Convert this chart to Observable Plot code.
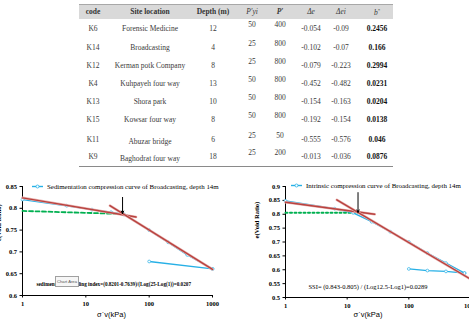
<!DOCTYPE html>
<html>
<head>
<meta charset="utf-8">
<script src="https://cdn.jsdelivr.net/npm/d3@7"></script>
<script src="https://cdn.jsdelivr.net/npm/@observablehq/plot@0.6"></script>
<style>
  html, body { margin: 0; padding: 0; background: #fff; }
  #page { position: relative; width: 469px; height: 323px; overflow: hidden; background: #fff;
          font-family: "Liberation Serif", "DejaVu Serif", serif; }
  .cell { position: absolute; transform: translate(-50%, -50%); white-space: nowrap;
          font-size: 7.5px; line-height: 1; color: #3a3a3a; }
  .head { color: #333; font-weight: bold; }
  .bold { font-weight: bold; color: #111; }
  .band { position: absolute; background: #d9d9d9; border-top: 1px solid #a8a8a8; }
  .rule { position: absolute; height: 1px; background: #8a8a8a; }
  .chart { position: absolute; }
  .tip { position: absolute; background: #f6f6f6; border: 1px solid #a0a0a0; color: #555;
         font: 4.2px "Liberation Sans", sans-serif; line-height: 9px; text-align: center;
         white-space: nowrap; overflow: hidden; box-sizing: border-box; }
</style>
</head>
<body>
<div id="page"></div>
<script>
// ---- Table: consolidation results per site ----
const headers = ["code", "Site location", "Depth (m)", "<i>P′yi</i>", "<b><i>P′</i></b>", "<i>Δe</i>", "<i>Δei</i>", "<i>b</i><sup style='font-size:5px'>*</sup>"];
const codes = ["K6", "K14", "K12", "K4", "K13", "K15", "K11", "K9"];
const sites = ["Forensic Medicine", "Broadcasting", "Kerman potk Company", "Kuhpayeh four way", "Shora park", "Kowsar four way", "Abuzar bridge", "Baghodrat four way"];
const depths = [12, 4, 8, 13, 10, 8, 6, 18];
const pYield = [50, 25, 25, 50, 50, 50, 25, 25];
const pFinal = [400, 800, 800, 800, 800, 800, 50, 200];
const deltaE = ["-0.054", "-0.102", "-0.079", "-0.452", "-0.154", "-0.192", "-0.555", "-0.013"];
const deltaEi = ["-0.09", "-0.07", "-0.223", "-0.482", "-0.163", "-0.154", "-0.576", "-0.036"];
const bStar = ["0.2456", "0.166", "0.2994", "0.0231", "0.0204", "0.0138", "0.046", "0.0876"];

// ---- Left chart: sedimentation compression curve (Broadcasting, depth 14 m) ----
const sedStress = [1, 5, 12.5, 25, 40, 100, 200, 400, 1000];
const sedVoid = [0.820, 0.806, 0.797, 0.791, 0.786, 0.750, 0.722, 0.693, 0.661];
const sedUnloadStress = [1000, 100];
const sedUnloadVoid = [0.661, 0.678];
const sedTanA = {s: [1, 62], e: [0.824, 0.780]};
const sedTanB = {s: [24, 1000], e: [0.806, 0.660]};
const sedYieldLine = {s: [1, 38], e: [0.794, 0.787]};
const sedArrow = {s: 38, from: 0.825, to: 0.788};

// ---- Right chart: intrinsic compression curve (Broadcasting, depth 14 m) ----
const intStress = [1, 6.25, 12.5, 25, 50, 100, 200, 400, 800];
const intVoid = [0.848, 0.820, 0.805, 0.773, 0.737, 0.700, 0.660, 0.624, 0.588];
const intUnloadStress = [800, 400, 200, 100];
const intUnloadVoid = [0.588, 0.594, 0.597, 0.603];
const intTanA = {s: [1, 28], e: [0.843, 0.800]};
const intTanB = {s: [6.8, 1000], e: [0.852, 0.566]};
const intYieldLine = {s: [1, 15], e: [0.805, 0.805]};
const intArrow = {s: 15, from: 0.878, to: 0.807};

const xTicks = [1, 10, 100, 1000];
const yTicksLeft = [0.6, 0.65, 0.7, 0.75, 0.8, 0.85];
const yTicksRight = [0.5, 0.55, 0.6, 0.65, 0.7, 0.75, 0.8, 0.85, 0.9];

const BLUE = "#27b0e6", RED = "#b8423f", RED_HALO = "#e9b4b2", GREEN = "#00b050";

const page = document.getElementById("page");

// table
const tableLeft = 79, tableRight = 393;
const colX = [93, 150, 213, 252, 280, 311, 341, 377];
const rowY = [29, 47.5, 65.5, 83.5, 101.5, 120, 140, 157];
const band = document.createElement("div");
band.className = "band";
Object.assign(band.style, {left: tableLeft + "px", top: "4px", width: (tableRight - tableLeft) + "px", height: "14px"});
page.appendChild(band);
const bottomRule = document.createElement("div");
bottomRule.className = "rule";
Object.assign(bottomRule.style, {left: tableLeft + "px", top: "166px", width: (tableRight - tableLeft) + "px"});
page.appendChild(bottomRule);

function cell(html, x, y, cls) {
  const d = document.createElement("div");
  d.className = "cell" + (cls ? " " + cls : "");
  d.innerHTML = html;
  d.style.left = x + "px";
  d.style.top = y + "px";
  page.appendChild(d);
}
headers.forEach((h, j) => cell(h, colX[j], 11.5, j < 3 ? "head" : ""));
const siteShift = [0, 0, 0, 0, 0, 0, 1.5, 2];
codes.forEach((c, i) => {
  const y = rowY[i];
  cell(c, colX[0], y);
  cell(sites[i], colX[1], y + siteShift[i]);
  cell(String(depths[i]), colX[2], y);
  cell(String(pYield[i]), colX[3], y - 4);
  cell(String(pFinal[i]), colX[4], y - 4);
  cell(deltaE[i], colX[5], y);
  cell(deltaEi[i], colX[6], y);
  cell(bStar[i], colX[7], y, "bold");
});

// helpers
const pts = (xs, ys) => xs.map((s, i) => ({s, e: ys[i]}));
const seg = (o) => pts(o.s, o.e);
const fmtY = d => String(Math.round(d * 100) / 100);

function redLine(o) {
  return [
    Plot.line(seg(o), {x: "s", y: "e", stroke: RED_HALO, strokeWidth: 2.6}),
    Plot.line(seg(o), {x: "s", y: "e", stroke: RED, strokeWidth: 1.4})
  ];
}

function chart({width, marginLeft, marginRight, yDomain, yTicks, load, unload, tanA, tanB, yieldLine, yieldDash, yieldWidth, arrow, note, noteDx, noteDy, noteSize, noteWeight, yTitleDx, yTitleDy, xTitleDx, xTitleDy, marginBottom}) {
  const all = load.concat(unload);
  return Plot.plot({
    width, height: 153,
    marginLeft, marginRight, marginTop: 16, marginBottom,
    style: {fontFamily: "Liberation Serif", fontSize: "6.5px", fontWeight: "bold", color: "#000", background: "transparent", overflow: "visible"},
    x: {type: "log", domain: [1, 1000], ticks: xTicks, tickFormat: d => String(d), tickSize: 2.5, tickPadding: 3, line: true, label: null},
    y: {domain: yDomain, ticks: yTicks, tickFormat: fmtY, tickSize: 2.5, tickPadding: 3, line: true, label: null},
    marks: [
      Plot.line(yieldLine, {x: "s", y: "e", stroke: GREEN, strokeWidth: yieldWidth, strokeDasharray: yieldDash}),
      Plot.line(load, {x: "s", y: "e", stroke: BLUE, strokeWidth: 1.4}),
      Plot.line(unload, {x: "s", y: "e", stroke: BLUE, strokeWidth: 1.4}),
      Plot.dot(all, {x: "s", y: "e", r: 1.4, stroke: BLUE, fill: "white", strokeWidth: 0.7}),
      ...redLine(tanA),
      ...redLine(tanB),
      Plot.arrow([arrow], {x1: "s", x2: "s", y1: "from", y2: "to", stroke: "#000", strokeWidth: 1, headLength: 4, headAngle: 50}),
      Plot.text([note], {text: d => d, frameAnchor: "bottom-left", dx: noteDx, dy: noteDy, textAnchor: "start",
        fontFamily: "Liberation Serif", fontSize: noteSize, fontWeight: noteWeight, fill: "#000"}),
      Plot.text(["e(Void Ratio)"], {text: d => d, frameAnchor: "left", rotate: -90, dx: yTitleDx, dy: yTitleDy,
        fontFamily: "Liberation Serif", fontSize: 6.5, fontWeight: "bold", fill: "#000"}),
      Plot.text(["σ΄v(kPa)"], {text: d => d, frameAnchor: "bottom", dx: xTitleDx, dy: xTitleDy,
        fontFamily: "Liberation Sans", fontSize: 7.5, fontWeight: "normal", fill: "#000"})
    ]
  });
}

function legend(svg, x, y, label) {
  const g = d3.select(svg).append("g").attr("text-anchor", "start");
  g.append("line").attr("x1", x).attr("x2", x + 11).attr("y1", y).attr("y2", y)
    .attr("stroke", BLUE).attr("stroke-width", 1.4);
  g.append("circle").attr("cx", x + 5.5).attr("cy", y).attr("r", 1.5)
    .attr("fill", "white").attr("stroke", BLUE).attr("stroke-width", 0.8);
  g.append("text").attr("x", x + 15).attr("y", y).attr("dy", "0.32em")
    .attr("text-anchor", "start")
    .attr("font-family", "Liberation Serif").attr("font-size", 6.9).attr("font-weight", "normal")
    .attr("fill", "#000").text(label);
}

const leftSvg = chart({
  width: 230, marginLeft: 22, marginRight: 18, marginBottom: 28,
  yDomain: [0.6, 0.85], yTicks: yTicksLeft,
  load: pts(sedStress, sedVoid), unload: pts(sedUnloadStress, sedUnloadVoid),
  tanA: sedTanA, tanB: sedTanB, yieldLine: seg(sedYieldLine), yieldDash: "4,2.5", yieldWidth: 1.8,
  arrow: sedArrow,
  note: "sedimentation swelling index=(0.8201-0.7639)/(Log(25-Log(1))=0.0207", noteDx: 14, noteDy: -10, noteSize: 5.2, noteWeight: "bold",
  yTitleDx: -24, yTitleDy: 0, xTitleDx: -6, xTitleDy: 21
});
legend(leftSvg, 32, 16.5, "Sedimentation compression curve of Broadcasting, depth 14m");

const rightSvg = chart({
  width: 240, marginLeft: 45, marginRight: 10, marginBottom: 26,
  yDomain: [0.5, 0.9], yTicks: yTicksRight,
  load: pts(intStress, intVoid), unload: pts(intUnloadStress, intUnloadVoid),
  tanA: intTanA, tanB: intTanB, yieldLine: seg(intYieldLine), yieldDash: "2,2.5", yieldWidth: 2,
  arrow: intArrow,
  note: "SSI= (0.843-0.805) / (Log12.5-Log1)=0.0289", noteDx: 23, noteDy: -9, noteSize: 6.5, noteWeight: "normal",
  yTitleDx: -29, yTitleDy: -3.5, xTitleDx: -10, xTitleDy: 19
});
legend(rightSvg, 51, 15.5, "Intrinsic compression curve of Broadcasting, depth 14m");

function place(svg, left, top, width) {
  const wrap = document.createElement("div");
  wrap.className = "chart";
  Object.assign(wrap.style, {left: left + "px", top: top + "px", width: width + "px"});
  wrap.appendChild(svg);
  page.appendChild(wrap);
}
place(leftSvg, 0, 170, 230);
place(rightSvg, 240, 170, 240);

// hover tooltip left over the chart area
const tip = document.createElement("div");
tip.className = "tip";
tip.textContent = "Chart Area";
Object.assign(tip.style, {left: "55px", top: "276px", width: "24px", height: "11px"});
page.appendChild(tip);
</script>
</body>
</html>
